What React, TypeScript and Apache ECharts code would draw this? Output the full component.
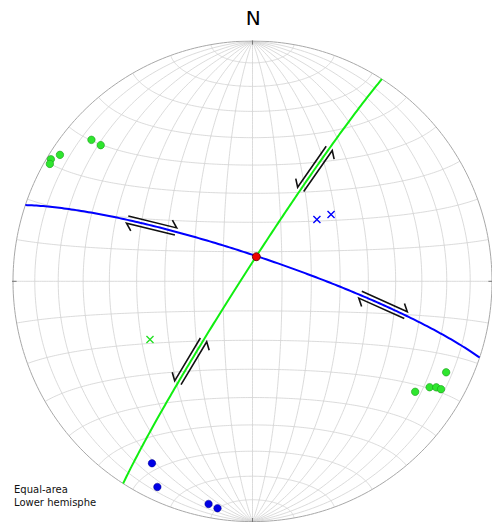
import React, { useEffect, useRef } from 'react';
import * as echarts from 'echarts';

// ---- data (degrees) ----
const gridStep = 10;
const planeStrikes = [288.5, 212.7]; // right-hand-rule strike
const planeDips = [81.5, 86.5];
const planeColors = ['#0000ff', '#11ee11'];

const blueDotTrends = [209.0, 204.9, 191.2, 188.8];
const blueDotPlunges = [14.5, 6.3, 6.2, 5.0];
const greenDotTrends = [311.2, 311.8, 303.2, 301.1, 300.0, 115.1, 120.8, 119.9, 119.7, 124.1];
const greenDotPlunges = [11.6, 16.1, 4.4, 1.9, 2.6, 11.7, 15.0, 12.5, 10.3, 19.1];
const blueCrossTrends = [46.3, 49.7];
const blueCrossPlunges = [59.5, 54.6];
const greenCrossTrends = [240.5];
const greenCrossPlunges = [49.3];

// slip arrows: plane index, position along plane (deg from strike), sense
const arrowPlanes = [0, 0, 1, 1];
const arrowPositions = [51, 135.5, 134.4, 55.5];
const arrowSenses = [1, 1, -1, -1];

const cardinalAzimuths = [0, 90, 180, 270];

// ---- geometry helpers ----
const rad = (d: number) => (d * Math.PI) / 180;
type V3 = [number, number, number];
const proj = (v: V3): [number, number] => {
  let [e, n, d] = v;
  if (d < 0) { e = -e; n = -n; d = -d; }
  const k = 1 / Math.sqrt(1 + d);
  return [e * k, n * k];
};
const lineVec = (trend: number, plunge: number): V3 => [
  Math.cos(rad(plunge)) * Math.sin(rad(trend)),
  Math.cos(rad(plunge)) * Math.cos(rad(trend)),
  Math.sin(rad(plunge)),
];
const planePoint = (i: number, t: number): V3 => {
  const s = rad(planeStrikes[i]);
  const dd = s + Math.PI / 2;
  const dip = rad(planeDips[i]);
  const sv: V3 = [Math.sin(s), Math.cos(s), 0];
  const dv: V3 = [Math.cos(dip) * Math.sin(dd), Math.cos(dip) * Math.cos(dd), Math.sin(dip)];
  const c = Math.cos(rad(t)), sn = Math.sin(rad(t));
  return [c * sv[0] + sn * dv[0], c * sv[1] + sn * dv[1], c * sv[2] + sn * dv[2]];
};
const cross = (a: V3, b: V3): V3 => [
  a[1] * b[2] - a[2] * b[1],
  a[2] * b[0] - a[0] * b[2],
  a[0] * b[1] - a[1] * b[0],
];

const range = (a: number, b: number, st: number) => {
  const r: number[] = [];
  for (let x = a; x <= b + 1e-9; x += st) r.push(x);
  return r;
};

export default function App() {
  const ref = useRef<HTMLDivElement>(null);
  useEffect(() => {
    if (!ref.current) return;
    const chart = echarts.init(ref.current, undefined, { renderer: 'svg' });
    const PX = 240.3; // pixels per unit radius (style sizes only)

    // grid lines
    const gridLines: any[] = [];
    for (const a of range(gridStep, 180 - gridStep, gridStep)) {
      const ca = Math.cos(rad(a)), sa = Math.sin(rad(a));
      gridLines.push({
        coords: range(0, 180, 1).map((s) =>
          proj([Math.sin(rad(s)) * ca, Math.cos(rad(s)), Math.sin(rad(s)) * sa])
        ),
      });
    }
    for (const b of range(gridStep, 180 - gridStep, gridStep)) {
      const cb = Math.cos(rad(b)), sb = Math.sin(rad(b));
      gridLines.push({
        coords: range(0, 180, 1).map((g) =>
          proj([sb * Math.cos(rad(g)), cb, sb * Math.sin(rad(g))])
        ),
      });
    }
    const primitive = [{ coords: range(0, 360, 1).map((a) => [Math.sin(rad(a)), Math.cos(rad(a))]) }];
    const ticks = cardinalAzimuths.map((a) => ({
      coords: [
        [0.985 * Math.sin(rad(a)), 0.985 * Math.cos(rad(a))],
        [1.018 * Math.sin(rad(a)), 1.018 * Math.cos(rad(a))],
      ],
    }));

    // planes
    const planeSeries = planeStrikes.map((_, i) => ({
      type: 'lines',
      coordinateSystem: 'cartesian2d',
      polyline: true,
      silent: true,
      z: 5,
      lineStyle: { color: planeColors[i], width: 2, opacity: 1 },
      data: [{ coords: range(0, 180, 1).map((t) => proj(planePoint(i, t))) }],
    }));

    // intersection of the two planes
    const n0 = cross(planePoint(0, 0), planePoint(0, 90));
    const n1 = cross(planePoint(1, 0), planePoint(1, 90));
    const inter = proj(cross(n0, n1));

    // slip arrows
    const halfLen = 25 / PX, off = 3.7 / PX, back = 6 / PX, out = 6.5 / PX;
    const arrowLines: any[] = [];
    arrowPlanes.forEach((pi, k) => {
      const t = arrowPositions[k];
      const P = proj(planePoint(pi, t));
      const A = proj(planePoint(pi, t - 1));
      const B = proj(planePoint(pi, t + 1));
      let Tx = B[0] - A[0], Ty = B[1] - A[1];
      const L = Math.hypot(Tx, Ty);
      Tx /= L; Ty /= L;
      const Nx = -Ty, Ny = Tx;
      for (const side of [1, -1]) {
        const dir = arrowSenses[k] * side;
        const bx = P[0] + side * off * Nx, by = P[1] + side * off * Ny;
        const tail = [bx - dir * halfLen * Tx, by - dir * halfLen * Ty];
        const tip = [bx + dir * halfLen * Tx, by + dir * halfLen * Ty];
        const barb = [
          tip[0] - dir * back * Tx + side * out * Nx,
          tip[1] - dir * back * Ty + side * out * Ny,
        ];
        arrowLines.push({ coords: [tail, tip, barb] });
      }
    });

    const pts = (tr: number[], pl: number[]) => tr.map((t, i) => proj(lineVec(t, pl[i])));
    const xPath = 'path://M0,1.2L1.2,0L5,3.8L8.8,0L10,1.2L6.2,5L10,8.8L8.8,10L5,6.2L1.2,10L0,8.8L3.8,5Z';

    const option: any = {
      animation: false,
      grid: { left: 13, top: 41, width: 480.6, height: 480.6 },
      xAxis: { type: 'value', min: -1, max: 1, show: false },
      yAxis: { type: 'value', min: -1, max: 1, show: false },
      graphic: [
        {
          type: 'text', x: 253.3, y: 18,
          style: {
            text: 'N', fontSize: 20, fontFamily: 'DejaVu Sans', fill: '#000',
            textAlign: 'center', textVerticalAlign: 'middle',
          },
        },
        {
          type: 'text', x: 14, y: 483.5,
          style: {
            text: 'Equal-area\nLower hemisphe', fontSize: 10, lineHeight: 12.5,
            fontFamily: 'DejaVu Sans', fill: '#111', textAlign: 'left', textVerticalAlign: 'top',
          },
        },
      ],
      series: [
        {
          type: 'lines', coordinateSystem: 'cartesian2d', polyline: true, silent: true, z: 1,
          lineStyle: { color: '#d2d2d2', width: 0.8, opacity: 1 },
          data: gridLines,
        },
        {
          type: 'lines', coordinateSystem: 'cartesian2d', polyline: true, silent: true, z: 2,
          lineStyle: { color: '#a8a8a8', width: 1, opacity: 1 },
          data: primitive,
        },
        {
          type: 'lines', coordinateSystem: 'cartesian2d', polyline: true, silent: true, z: 2,
          lineStyle: { color: '#777', width: 1, opacity: 1 },
          data: ticks,
        },
        ...planeSeries,
        {
          type: 'lines', coordinateSystem: 'cartesian2d', polyline: true, silent: true, z: 6,
          lineStyle: { color: '#111', width: 1.6, opacity: 1 },
          data: arrowLines,
        },
        {
          type: 'scatter', z: 8, symbol: 'circle', symbolSize: 7.5,
          itemStyle: { color: '#2ee62e', borderColor: '#1d9a1d', borderWidth: 0.6, opacity: 1 },
          data: pts(greenDotTrends, greenDotPlunges),
        },
        {
          type: 'scatter', z: 8, symbol: 'circle', symbolSize: 7.5,
          itemStyle: { color: '#0000e6', borderColor: '#000088', borderWidth: 0.5, opacity: 1 },
          data: pts(blueDotTrends, blueDotPlunges),
        },
        {
          type: 'scatter', z: 8, symbol: xPath, symbolSize: 8,
          itemStyle: { color: '#0000ff', opacity: 1 },
          data: pts(blueCrossTrends, blueCrossPlunges),
        },
        {
          type: 'scatter', z: 8, symbol: xPath, symbolSize: 8,
          itemStyle: { color: '#22e022', opacity: 1 },
          data: pts(greenCrossTrends, greenCrossPlunges),
        },
        {
          type: 'scatter', z: 9, symbol: 'circle', symbolSize: 8,
          itemStyle: { color: '#ee0000', borderColor: '#550000', borderWidth: 0.8, opacity: 1 },
          data: [inter],
        },
      ],
    };
    chart.setOption(option);
    return () => chart.dispose();
  }, []);
  return (
    <div
      ref={ref}
      style={{ position: 'absolute', left: 0, top: 0, width: 492, height: 525, background: '#fff' }}
    />
  );
}
